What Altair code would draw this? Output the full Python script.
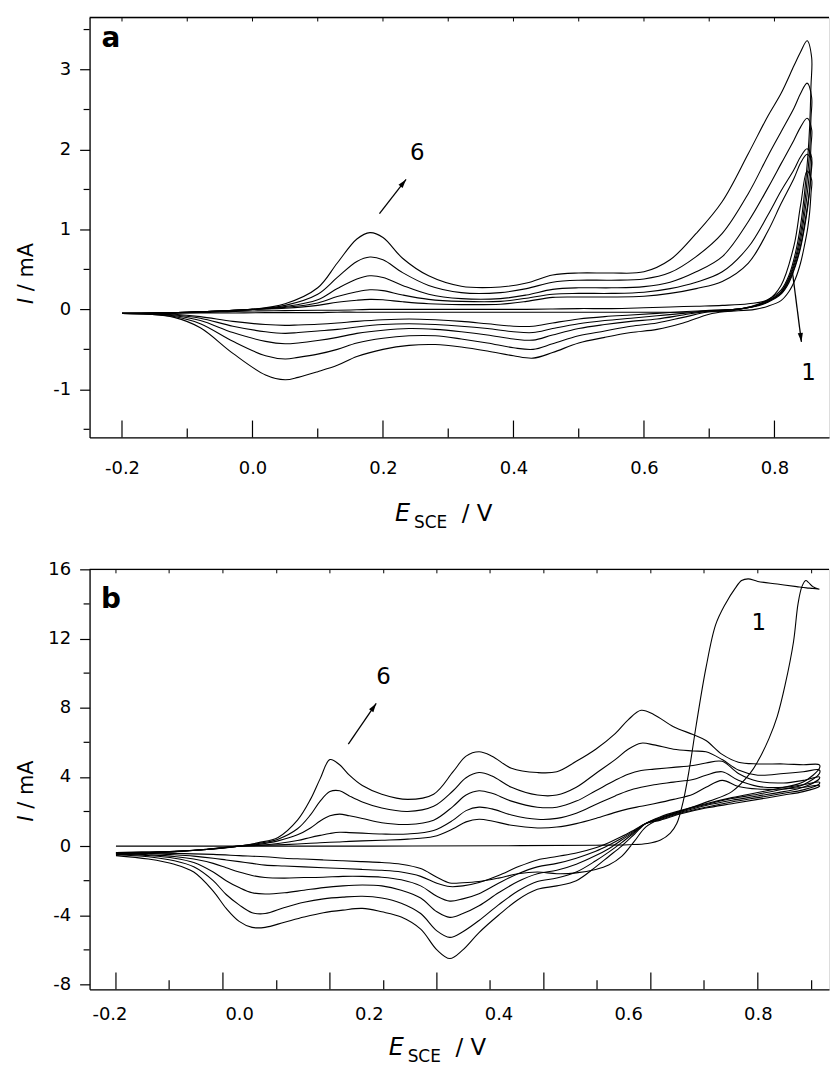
import altair as alt
import pandas as pd

W, H = 743, 422
FONT = "DejaVu Sans"

# ---------------- Panel a (values in V and mA) ----------------
A_E_FWD = [-0.20, -0.15, -0.10, -0.05, 0.00, 0.05, 0.10, 0.13, 0.16, 0.18,
           0.20, 0.23, 0.27, 0.32, 0.38, 0.42, 0.46, 0.50, 0.55, 0.60,
           0.64, 0.68, 0.72, 0.76, 0.79, 0.81, 0.83, 0.84, 0.85]
A_I_FWD = {
    1: [-0.05, -0.045, -0.04, -0.03, -0.02, -0.015, -0.01, -0.01, -0.005, 0.0,
        0.0, 0.0, 0.0, 0.0, 0.0, 0.0, 0.005, 0.01, 0.01, 0.02,
        0.03, 0.04, 0.05, 0.07, 0.12, 0.30, 0.80, 1.30, 1.73],
    2: [-0.05, -0.045, -0.035, -0.02, 0.0, 0.015, 0.05, 0.09, 0.115, 0.125,
        0.12, 0.095, 0.07, 0.06, 0.065, 0.10, 0.15, 0.155, 0.155, 0.165,
        0.20, 0.26, 0.35, 0.58, 0.98, 1.32, 1.64, 1.83, 1.94],
    3: [-0.05, -0.045, -0.035, -0.02, 0.0, 0.025, 0.08, 0.16, 0.22, 0.245,
        0.235, 0.18, 0.125, 0.10, 0.10, 0.14, 0.19, 0.20, 0.20, 0.215,
        0.26, 0.34, 0.47, 0.78, 1.18, 1.48, 1.75, 1.91, 2.01],
    4: [-0.05, -0.045, -0.035, -0.02, 0.0, 0.035, 0.12, 0.26, 0.38, 0.42,
        0.40, 0.30, 0.19, 0.135, 0.135, 0.18, 0.25, 0.27, 0.27, 0.285,
        0.34, 0.47, 0.66, 1.10, 1.52, 1.82, 2.12, 2.28, 2.39],
    5: [-0.05, -0.045, -0.035, -0.02, 0.0, 0.05, 0.19, 0.40, 0.60, 0.655,
        0.62, 0.46, 0.30, 0.21, 0.21, 0.26, 0.34, 0.365, 0.365, 0.38,
        0.46, 0.66, 0.95, 1.45, 1.92, 2.22, 2.52, 2.70, 2.83],
    6: [-0.05, -0.045, -0.035, -0.02, 0.0, 0.07, 0.27, 0.58, 0.88, 0.96,
        0.90, 0.64, 0.42, 0.29, 0.28, 0.33, 0.43, 0.455, 0.455, 0.47,
        0.62, 0.95, 1.35, 1.95, 2.42, 2.70, 3.05, 3.22, 3.36],
}
A_E_REV = [0.857, 0.856, 0.854, 0.851, 0.846, 0.84, 0.832, 0.822, 0.81, 0.79,
           0.77, 0.74, 0.70, 0.66, 0.62, 0.58, 0.54, 0.50, 0.46, 0.43,
           0.40, 0.36, 0.32, 0.28, 0.24, 0.20, 0.16, 0.13, 0.10, 0.07,
           0.05, 0.02, -0.03, -0.08, -0.12, -0.16, -0.20]
A_I_REV = {
    1: [1.62, 1.45, 1.22, 1.02, 0.8, 0.58, 0.38, 0.22, 0.11, 0.04,
        0.0, -0.02, -0.03, -0.035, -0.035, -0.035, -0.035, -0.035, -0.035, -0.035,
        -0.035, -0.035, -0.035, -0.035, -0.035, -0.035, -0.035, -0.035, -0.04, -0.04,
        -0.04, -0.04, -0.045, -0.045, -0.05, -0.05, -0.05],
    2: [1.85, 1.7, 1.48, 1.28, 1.02, 0.77, 0.54, 0.33, 0.19, 0.09,
        0.035, 0.0, -0.01, -0.03, -0.05, -0.07, -0.09, -0.12, -0.17, -0.21,
        -0.21, -0.18, -0.15, -0.13, -0.12, -0.13, -0.15, -0.17, -0.185, -0.195,
        -0.20, -0.19, -0.15, -0.09, -0.06, -0.05, -0.05],
    3: [1.9, 1.75, 1.52, 1.32, 1.06, 0.8, 0.56, 0.35, 0.2, 0.1,
        0.04, 0.0, -0.015, -0.05, -0.08, -0.11, -0.14, -0.18, -0.24, -0.29,
        -0.28, -0.24, -0.21, -0.19, -0.18, -0.19, -0.22, -0.25, -0.27, -0.29,
        -0.30, -0.28, -0.21, -0.11, -0.07, -0.055, -0.05],
    4: [2.25, 2.05, 1.75, 1.5, 1.18, 0.87, 0.6, 0.37, 0.21, 0.10,
        0.04, 0.0, -0.02, -0.07, -0.12, -0.15, -0.19, -0.24, -0.32, -0.385,
        -0.37, -0.32, -0.28, -0.25, -0.24, -0.26, -0.30, -0.35, -0.39, -0.42,
        -0.43, -0.40, -0.29, -0.14, -0.08, -0.055, -0.05],
    5: [2.65, 2.4, 2.0, 1.7, 1.3, 0.95, 0.64, 0.39, 0.22, 0.11,
        0.045, 0.0, -0.03, -0.10, -0.17, -0.21, -0.27, -0.33, -0.43, -0.50,
        -0.48, -0.42, -0.37, -0.33, -0.33, -0.36, -0.42, -0.50, -0.56, -0.60,
        -0.62, -0.58, -0.40, -0.18, -0.09, -0.06, -0.05],
    6: [3.15, 2.8, 2.3, 1.9, 1.45, 1.05, 0.7, 0.42, 0.24, 0.12,
        0.05, -0.01, -0.06, -0.17, -0.25, -0.29, -0.35, -0.42, -0.54, -0.61,
        -0.58, -0.52, -0.47, -0.44, -0.45, -0.50, -0.59, -0.70, -0.78, -0.85,
        -0.88, -0.82, -0.55, -0.23, -0.10, -0.06, -0.05],
}

# ---------------- Panel b ----------------
B_E_FWD = [-0.19, -0.15, -0.10, -0.05, 0.00, 0.03, 0.06, 0.09, 0.11, 0.125,
           0.14, 0.155, 0.17, 0.19, 0.22, 0.26, 0.30, 0.33, 0.35, 0.37,
           0.39, 0.42, 0.46, 0.49, 0.52, 0.55, 0.58, 0.60, 0.62, 0.64,
           0.67, 0.70, 0.72, 0.745, 0.77, 0.80, 0.84, 0.87, 0.895]
B_I_FWD = {
    2: [-0.38, -0.35, -0.3, -0.18, 0.0, 0.03, 0.07, 0.12, 0.16, 0.19,
        0.22, 0.24, 0.27, 0.3, 0.34, 0.4, 0.55, 1.0, 1.4, 1.55,
        1.45, 1.2, 1.05, 1.1, 1.3, 1.6, 1.95, 2.15, 2.3, 2.45,
        2.7, 3.0, 3.4, 3.8, 3.45, 3.3, 3.3, 3.4, 3.5],
    3: [-0.38, -0.35, -0.3, -0.18, 0.0, 0.05, 0.15, 0.32, 0.5, 0.62,
        0.73, 0.8, 0.78, 0.75, 0.7, 0.7, 0.9, 1.5, 2.05, 2.25,
        2.15, 1.8, 1.55, 1.6, 1.9, 2.4, 2.9, 3.2, 3.4, 3.55,
        3.7, 3.85, 4.1, 4.3, 3.8, 3.45, 3.4, 3.55, 3.7],
    4: [-0.42, -0.38, -0.32, -0.2, 0.0, 0.1, 0.3, 0.65, 1.05, 1.45,
        1.75, 1.85, 1.75, 1.6, 1.35, 1.25, 1.5, 2.3, 2.95, 3.2,
        3.05, 2.6, 2.25, 2.25, 2.6, 3.2, 3.8, 4.15, 4.37, 4.45,
        4.55, 4.66, 4.8, 4.9, 4.2, 3.75, 3.65, 3.8, 4.0],
    5: [-0.45, -0.4, -0.32, -0.2, 0.0, 0.15, 0.4, 1.0, 1.8, 2.6,
        3.15, 3.2, 2.9, 2.55, 2.2, 2.0, 2.3, 3.2, 3.95, 4.25,
        4.05, 3.4, 2.95, 2.95, 3.4, 4.2, 5.0, 5.6, 5.95, 5.85,
        5.6, 5.5, 5.45, 5.0, 4.4, 4.1, 4.2, 4.3, 4.4],
    6: [-0.5, -0.42, -0.33, -0.2, 0.0, 0.2, 0.5, 1.5, 2.7, 3.9,
        5.0, 4.7, 4.1, 3.5, 3.0, 2.7, 3.0, 4.3, 5.2, 5.45,
        5.2, 4.5, 4.25, 4.3, 4.9, 5.6, 6.5, 7.3, 7.85, 7.6,
        6.9, 6.45, 6.1, 5.3, 4.85, 4.75, 4.75, 4.7, 4.7],
}
B_E_REV = [0.895, 0.87, 0.84, 0.80, 0.76, 0.72, 0.68, 0.65, 0.627, 0.61,
           0.59, 0.57, 0.55, 0.52, 0.49, 0.46, 0.43, 0.40, 0.37, 0.345,
           0.325, 0.305, 0.28, 0.25, 0.22, 0.19, 0.16, 0.13, 0.10, 0.07,
           0.04, 0.02, 0.0, -0.02, -0.04, -0.07, -0.10, -0.14, -0.19]
B_I_REV = {
    2: [3.45, 3.15, 2.95, 2.7, 2.45, 2.2, 1.85, 1.5, 1.3, 0.95,
        0.55, 0.2, -0.1, -0.4, -0.6, -0.8, -1.2, -1.7, -2.1, -2.3,
        -2.34, -2.15, -1.75, -1.5, -1.4, -1.35, -1.3, -1.25, -1.2, -1.15,
        -1.1, -1.0, -0.9, -0.8, -0.7, -0.58, -0.5, -0.42, -0.38],
    3: [3.6, 3.25, 3.05, 2.8, 2.55, 2.25, 1.9, 1.55, 1.3, 0.9,
        0.45, 0.05, -0.3, -0.7, -1.0, -1.2, -1.6, -2.15, -2.75, -3.05,
        -3.18, -2.9, -2.3, -1.95, -1.8, -1.75, -1.75, -1.8, -1.82, -1.85,
        -1.82, -1.7, -1.5, -1.25, -1.0, -0.75, -0.6, -0.5, -0.42],
    4: [3.9, 3.4, 3.15, 2.9, 2.65, 2.35, 1.95, 1.6, 1.3, 0.85,
        0.35, -0.15, -0.55, -1.05, -1.4, -1.6, -2.05, -2.7, -3.45, -3.9,
        -4.12, -3.8, -3.0, -2.55, -2.3, -2.25, -2.3, -2.4, -2.55, -2.7,
        -2.77, -2.7, -2.4, -2.0, -1.5, -0.95, -0.7, -0.55, -0.45],
    5: [4.2, 3.55, 3.3, 3.0, 2.75, 2.4, 2.0, 1.65, 1.3, 0.8,
        0.2, -0.35, -0.85, -1.5, -1.85, -2.05, -2.6, -3.4, -4.3, -4.95,
        -5.28, -4.9, -3.9, -3.3, -3.0, -2.9, -2.95, -3.05, -3.25, -3.55,
        -3.9, -3.85, -3.4, -2.8, -2.0, -1.2, -0.85, -0.62, -0.5],
    6: [4.5, 3.7, 3.4, 3.1, 2.8, 2.45, 2.05, 1.7, 1.3, 0.7,
        0.0, -0.6, -1.2, -2.0, -2.3, -2.5, -3.1, -4.0, -5.0, -6.0,
        -6.5, -6.0, -4.8, -4.1, -3.8, -3.6, -3.7, -3.85, -4.1, -4.4,
        -4.7, -4.7, -4.35, -3.6, -2.6, -1.5, -1.05, -0.75, -0.55],
}
# cycle 1 of panel b (its own potential grid)
B1_E_FWD = [-0.19, 0.0, 0.2, 0.4, 0.55, 0.60, 0.63, 0.65, 0.665, 0.675,
            0.685, 0.695, 0.705, 0.72, 0.735, 0.75, 0.765, 0.775, 0.785, 0.80,
            0.83, 0.86, 0.875, 0.885, 0.895]
B1_I_FWD = [0.0, 0.0, 0.0, 0.02, 0.05, 0.08, 0.15, 0.35, 0.75, 1.3,
            2.6, 4.6, 7.0, 10.3, 12.8, 14.0, 14.9, 15.35, 15.45, 15.3,
            15.15, 15.0, 14.93, 14.9, 14.85]
B1_E_REV = [0.895, 0.885, 0.878, 0.874, 0.868, 0.862, 0.855, 0.842, 0.83, 0.817,
            0.80, 0.788, 0.76, 0.725, 0.68, 0.65, 0.627, 0.61, 0.59, 0.57,
            0.55, 0.52, 0.49, 0.46, 0.43, 0.40, 0.37, 0.345, 0.325, 0.305,
            0.28, 0.25, 0.22, 0.19, 0.16, 0.13, 0.10, 0.07, 0.04, 0.0,
            -0.04, -0.10, -0.19]
B1_I_REV = [14.85, 15.0, 15.25, 15.35, 15.0, 14.0, 11.8, 9.3, 7.5, 6.2,
            4.9, 4.2, 3.15, 2.6, 2.0, 1.6, 1.1, 0.3, -0.6, -1.1,
            -1.35, -1.55, -1.6, -1.5, -1.6, -1.85, -2.05, -2.12, -2.13, -1.8,
            -1.3, -1.05, -0.95, -0.9, -0.85, -0.8, -0.75, -0.7, -0.62, -0.55,
            -0.48, -0.42, -0.38]

# axis values
A_X_LABELS = [-0.2, 0.0, 0.2, 0.4, 0.6, 0.8]
A_X_MAJOR = [-0.2, 0.0, 0.2, 0.4, 0.6, 0.8]
A_X_MINOR = [-0.1, 0.1, 0.3, 0.5, 0.7]
A_Y_MAJOR = [-1, 0, 1, 2, 3]
A_Y_MINOR = [-1.5, -0.5, 0.5, 1.5, 2.5, 3.5]
B_X_LABELS = [-0.2, 0.0, 0.2, 0.4, 0.6, 0.8]
B_X_MAJOR = [-0.190, -0.025, 0.140, 0.305, 0.470, 0.635, 0.800]
B_X_MINOR = [-0.108, 0.058, 0.223, 0.387, 0.552, 0.717, 0.883]
B_Y_MAJOR = [-8, -4, 0, 4, 8, 12, 16]
B_Y_MINOR = [-6, -2, 2, 6, 10, 14]

A_XDOM = [-0.2497, 0.8836]
A_YDOM = [-1.602, 3.651]
B_XDOM = [-0.2307, 0.9098]
B_YDOM = [-8.28, 16.0]

# arrows: (E start, I start, E end, I end, heading angle)
A_ARROWS = [(0.1946, 1.199, 0.2354, 1.626, 38), (0.8276, 0.464, 0.8413, -0.407, 173)]
B_ARROWS = [(0.1684, 5.90, 0.2114, 8.25, 34)]

ARROW_PATH = "M0,0L0.55,1.9L-0.55,1.9Z"


def loops(e_f, ifwd, e_r, irev):
    rows = []
    for c in ifwd:
        es = list(e_f) + list(e_r)
        vs = list(ifwd[c]) + list(irev[c])
        for k, (e, v) in enumerate(zip(es, vs)):
            rows.append({"cycle": c, "order": k, "E": e, "I": v})
    return rows


rows_a = loops(A_E_FWD, A_I_FWD, A_E_REV, A_I_REV)
rows_b = loops(B_E_FWD, B_I_FWD, B_E_REV, B_I_REV)
for k, (e, v) in enumerate(zip(B1_E_FWD + B1_E_REV, B1_I_FWD + B1_I_REV)):
    rows_b.append({"cycle": 1, "order": k, "E": e, "I": v})

ONE = pd.DataFrame({"d": [0]})


def txt(text, x, y, size, **kw):
    props = dict(text=text, font=FONT, fontSize=size, color="black", align="left",
                 baseline="alphabetic")
    props.update(kw)
    return alt.Chart(ONE).mark_text(**props).encode(x=alt.value(x), y=alt.value(y))


def panel(rows, xdom, ydom, xlabels, xmaj, xmin_, ymaj, ymin_, arrows, label_pad_x,
          letter, letter_xy, texts, title_x0, title_base, ytitle_base):
    xs = alt.Scale(domain=xdom, nice=False, zero=False)
    ys = alt.Scale(domain=ydom, nice=False, zero=False)
    xax = alt.Axis(values=xlabels, format=".1f", ticks=False, grid=False, title=None,
                   domainColor="black", domainWidth=1.3, labelFont=FONT, labelFontSize=18,
                   labelColor="black", labelPadding=label_pad_x)
    yax = alt.Axis(values=ymaj, format="d", tickSize=10, tickWidth=1.2, tickColor="black",
                   grid=False, title=None, domainColor="black", domainWidth=1.3,
                   labelFont=FONT, labelFontSize=18, labelColor="black", labelPadding=9)

    def X(f):
        return alt.X(f, scale=xs, axis=xax, title=None)

    def Y(f):
        return alt.Y(f, scale=ys, axis=yax, title=None)

    curves = alt.Chart(pd.DataFrame(rows)).mark_line(
        color="black", strokeWidth=1.1, interpolate="catmull-rom"
    ).encode(x=X("E:Q"), y=Y("I:Q"), detail="cycle:N", order="order:Q")
    top = alt.Chart(ONE).mark_rule(color="black", strokeWidth=1.3).encode(
        x=alt.value(0), x2=alt.value(W), y=alt.value(0))
    maj = alt.Chart(pd.DataFrame({"E": xmaj})).mark_rule(color="black", strokeWidth=1.2).encode(
        x=X("E:Q"), y=alt.value(H), y2=alt.value(H - 17))
    mnr = alt.Chart(pd.DataFrame({"E": xmin_})).mark_rule(color="black", strokeWidth=1.2).encode(
        x=X("E:Q"), y=alt.value(H), y2=alt.value(H - 9))
    topt = alt.Chart(pd.DataFrame({"E": xmaj + xmin_})).mark_rule(color="black", strokeWidth=1).encode(
        x=X("E:Q"), y=alt.value(0), y2=alt.value(4))
    ymn = alt.Chart(pd.DataFrame({"I": ymin_})).mark_rule(color="black", strokeWidth=1.2).encode(
        y=Y("I:Q"), x=alt.value(-6), x2=alt.value(0))
    adf = pd.DataFrame(arrows, columns=["E1", "I1", "E2", "I2", "ang"])
    shafts = alt.Chart(adf).mark_rule(color="black", strokeWidth=1.3).encode(
        x=X("E1:Q"), y=Y("I1:Q"), x2="E2:Q", y2="I2:Q")
    heads = [alt.Chart(adf.iloc[[i]]).mark_point(
        shape=ARROW_PATH, filled=True, color="black", opacity=1, size=90, angle=float(a.ang)
    ).encode(x=X("E2:Q"), y=Y("I2:Q"))
        for i, a in adf.iterrows()]
    layers = [curves, top, maj, mnr, topt, ymn, shafts] + heads
    layers.append(txt(letter, letter_xy[0], letter_xy[1], 28, fontWeight="bold"))
    for t, x, y in texts:
        layers.append(txt(t, x, y, 23))
    # x title: E_SCE / V
    layers.append(txt("E", title_x0, title_base, 24, fontStyle="italic"))
    layers.append(txt("SCE", title_x0 + 19, title_base + 7, 17))
    layers.append(txt("/ V", title_x0 + 67, title_base, 23))
    # y title: I / mA (rotated)
    layers.append(txt("I", -57, ytitle_base, 21, angle=270, fontStyle="italic"))
    layers.append(txt("/ mA", -57, ytitle_base - 13, 21, angle=270))
    return alt.layer(*layers).properties(width=W, height=H)


pa = panel(rows_a, A_XDOM, A_YDOM, A_X_LABELS, A_X_MAJOR, A_X_MINOR, A_Y_MAJOR, A_Y_MINOR,
           A_ARROWS, 22, "a", (12, 30),
           [("6", 322, 143), ("1", 715, 364)], 307, 506, 288)
pb = panel(rows_b, B_XDOM, B_YDOM, B_X_LABELS, B_X_MAJOR, B_X_MINOR, B_Y_MAJOR, B_Y_MINOR,
           B_ARROWS, 16, "b", (11.5, 39),
           [("6", 288, 115), ("1", 665, 61)], 300.6, 488.5, 253.5)

chart = alt.vconcat(pa, pb, spacing=27.5).properties(
    padding={"left": 15, "top": 13, "right": 0, "bottom": 0}
).configure_view(stroke=None).configure(
    background="white",
    locale={"number": {"decimal": ".", "thousands": ",", "grouping": [3],
                       "currency": ["", ""], "minus": "-"}},
)

chart.save("out.html", embed_options={"renderer": "svg", "actions": False})
